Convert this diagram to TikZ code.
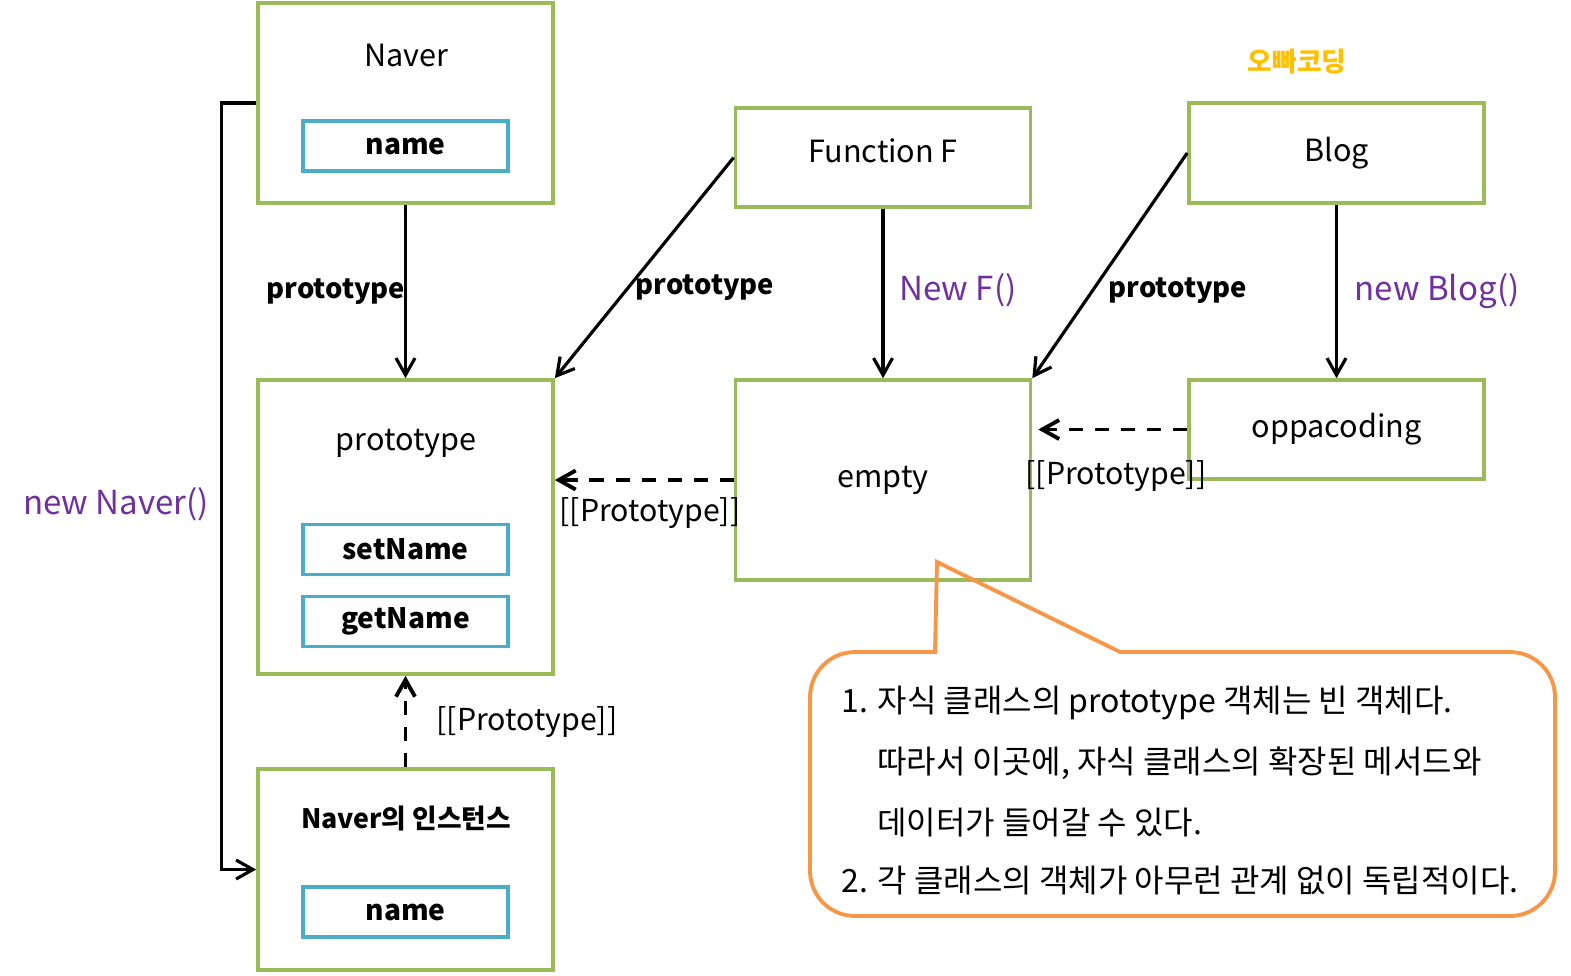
\documentclass[tikz,border=0pt]{standalone}
\usepackage{fontspec}
\setmainfont{Noto Sans CJK KR}
\usetikzlibrary{arrows.meta}
\definecolor{vert}{HTML}{9BBB59}
\definecolor{bleu}{HTML}{4BACC6}
\definecolor{orange}{HTML}{F79646}
\definecolor{violet}{HTML}{7030A0}
\definecolor{jaune}{HTML}{FFC000}
\begin{document}
\begin{tikzpicture}[x=0.01cm,y=-0.01cm]
 % les styles
  \tikzstyle{boite}=[rectangle,draw=vert,line width=1pt,minimum width=2.95cm,inner sep=0pt,font=\fontsize{8.7}{10}\selectfont]
  \tikzstyle{titre}=[font=\fontsize{8.7}{10}\selectfont]
  \tikzstyle{champ}=[rectangle,draw=bleu,line width=1pt,minimum width=2.05cm,minimum height=0.5cm,inner sep=0pt,font=\fontsize{8}{10}\selectfont\bfseries]
  \tikzstyle{fleche}=[-{Straight Barb[length=4.8pt,width=5.4pt]},line width=0.9pt]
  \tikzstyle{lien}=[fleche,dash pattern=on 4pt off 3.4pt,line width=1.1pt]
  \tikzstyle{etiq}=[font=\fontsize{7.8}{10}\selectfont\bfseries]
  \tikzstyle{proto}=[font=\fontsize{8.6}{10}\selectfont]
  \tikzstyle{appel}=[text=violet,font=\fontsize{9.4}{10}\selectfont]
  \tikzstyle{ligne}=[anchor=west,font=\fontsize{9.1}{10}\selectfont]
  \useasboundingbox (0,0) rectangle (1571,975);
 % les boites
  \node[boite,minimum height=2cm] (naver) at (405.5,103) {};
  \node[titre] (tnaver) at (406,55) {Naver};
  \node[champ] (nom1) at (405.5,146) {name};
  \node[boite,minimum height=2.94cm] (proto) at (405.5,527) {};
  \node[titre] (tproto) at (406,443) {prototype};
  \node[champ] (set) at (405.5,549.5) {setName};
  \node[champ] (get) at (405.5,621.5) {getName};
  \node[boite,minimum height=2.01cm] (inst) at (405.5,869.5) {};
  \node[titre,font=\fontsize{7.6}{10}\selectfont\bfseries] (tinst) at (406,818) {Naver의 인스턴스};
  \node[champ] (nom2) at (405.5,912) {name};
  \node[boite,minimum height=0.99cm] (fonc) at (883,157.5) {};
  \node[titre] (tfonc) at (883,151) {Function F};
  \node[boite,minimum height=2cm] (vide) at (883,480) {empty};
  \node[boite,minimum height=1cm] (blog) at (1336.5,153) {Blog};
  \node[boite,minimum height=0.99cm] (oppa) at (1336.5,429.5) {oppacoding};
  \node[text=jaune,font=\fontsize{7.6}{10}\selectfont\bfseries] (marque) at (1297,62) {오빠코딩};
 % les fleches
  \draw[fleche] (naver) -- (proto);
  \draw[fleche] (fonc.west) -- (proto.north east);
  \draw[fleche] (fonc) -- (vide);
  \draw[fleche] (blog.west) -- (vide.north east);
  \draw[fleche] (blog) -- (oppa);
  \draw[lien,shorten >=1.7pt] (oppa.west) -- (oppa.west -| vide.east);
  \draw[lien] (vide.west) -- (vide.west -| proto.east);
  \draw[lien] (inst) -- (proto);
  \draw[fleche] (naver.west) -- ++(-35,0) |- (inst.west);
 % les etiquettes
  \node[etiq] (lp1) at (336,292) {prototype};
  \node[etiq] (lp2) at (705,288) {prototype};
  \node[etiq] (lp3) at (1178,291) {prototype};
  \node[appel] (lnf) at (958,290) {New F()};
  \node[appel] (lnb) at (1437,291) {new Blog()};
  \node[appel] (lnn) at (116,504) {new Naver()};
  \node[proto] (lk1) at (1116,476) {[[Prototype]]};
  \node[proto] (lk2) at (650,513) {[[Prototype]]};
  \node[proto] (lk3) at (527,722) {[[Prototype]]};
 % la bulle
  \draw[orange,line width=1.1pt] (937,562) -- (1120,652) [rounded corners=0.45cm] -- (1555,652) -- (1555,916) -- (810,916) -- (810,652) [sharp corners] -- (935,652) -- cycle;
  \node[ligne] (l1) at (829,703) {1. 자식 클래스의 prototype 객체는 빈 객체다.};
  \node[ligne] (l2) at (865,763) {따라서 이곳에, 자식 클래스의 확장된 메서드와};
  \node[ligne] (l3) at (865,823) {데이터가 들어갈 수 있다.};
  \node[ligne] (l4) at (829,881) {2. 각 클래스의 객체가 아무런 관계 없이 독립적이다.};
\end{tikzpicture}
\end{document}
